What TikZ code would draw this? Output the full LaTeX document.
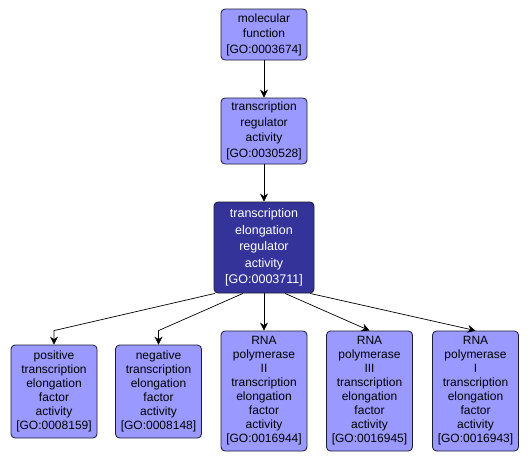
\documentclass[tikz,border=0pt]{standalone}
\usepackage{fontspec}
\setmainfont{Liberation Sans}
\usepackage{tikz}
\usetikzlibrary{arrows.meta,calc}
\definecolor{GoLight}{HTML}{9999FF}
\definecolor{GoDark}{HTML}{333399}
\definecolor{GoEdge}{HTML}{1A1A33}
\begin{document}
\begin{tikzpicture}[x=1pt, y=1pt, >={Stealth[length=8pt,width=8pt]}, font=\fontsize{12}{14}\selectfont]
\tikzset{term/.style={draw=GoEdge, line width=.8pt, rounded corners=4pt, align=center, fill=GoLight, inner sep=0pt, minimum width=86pt}, focus/.style={term, fill=GoDark, text=white, minimum width=100pt, minimum height=91pt, font=\fontsize{12.5}{16.5}\selectfont}, link/.style={->, line width=.7pt, black}}
\useasboundingbox (0,0) rectangle (530,-463);
\node[term, minimum height=51pt, font=\fontsize{12}{15.5}\selectfont] (mf) at (264,-34.5) {molecular\\function\\{[GO:0003674]}};
\node[term, minimum height=66pt, font=\fontsize{12}{15.5}\selectfont] (tra) at (264,-131) {transcription\\regulator\\activity\\{[GO:0030528]}};
\node[focus] (tea) at (264,-247.5) {transcription\\elongation\\regulator\\activity\\{[GO:0003711]}};
\draw[link] (mf) -- (tra);
\draw[link] (tra) -- (tea);
\foreach \name/\x/\label in {ptef/54/positive\\transcription\\elongation\\factor\\activity\\{[GO:0008159]},ntef/158.5/negative\\transcription\\elongation\\factor\\activity\\{[GO:0008148]}} {
  \node[term, minimum height=93pt] (\name) at (\x,-391.5) {\label};
}
\foreach \name/\x/\label in {pol2/264/II\\transcription\\elongation\\factor\\activity\\{[GO:0016944]},pol3/369.5/III\\transcription\\elongation\\factor\\activity\\{[GO:0016945]},pol1/475.5/I\\transcription\\elongation\\factor\\activity\\{[GO:0016943]}} {
  \node[term, minimum height=120pt] (\name) at (\x,-391) {RNA\\polymerase\\\label};
}
% bent links to the two left terms
\draw[link] ($(tea.south)+(-49,0)$) -- ($(ptef.north)+(0,14)$) -- (ptef.north);
\draw[link] ($(tea.south)+(-21,0)$) -- ($(ntef.north)+(0,14)$) -- (ntef.north);
\draw[link] (tea) -- (pol2);
\draw[link] ($(tea.south)+(21,0)$) -- (pol3.north);
\draw[link] ($(tea.south)+(46,0)$) -- (pol1.north);
\end{tikzpicture}
\end{document}
